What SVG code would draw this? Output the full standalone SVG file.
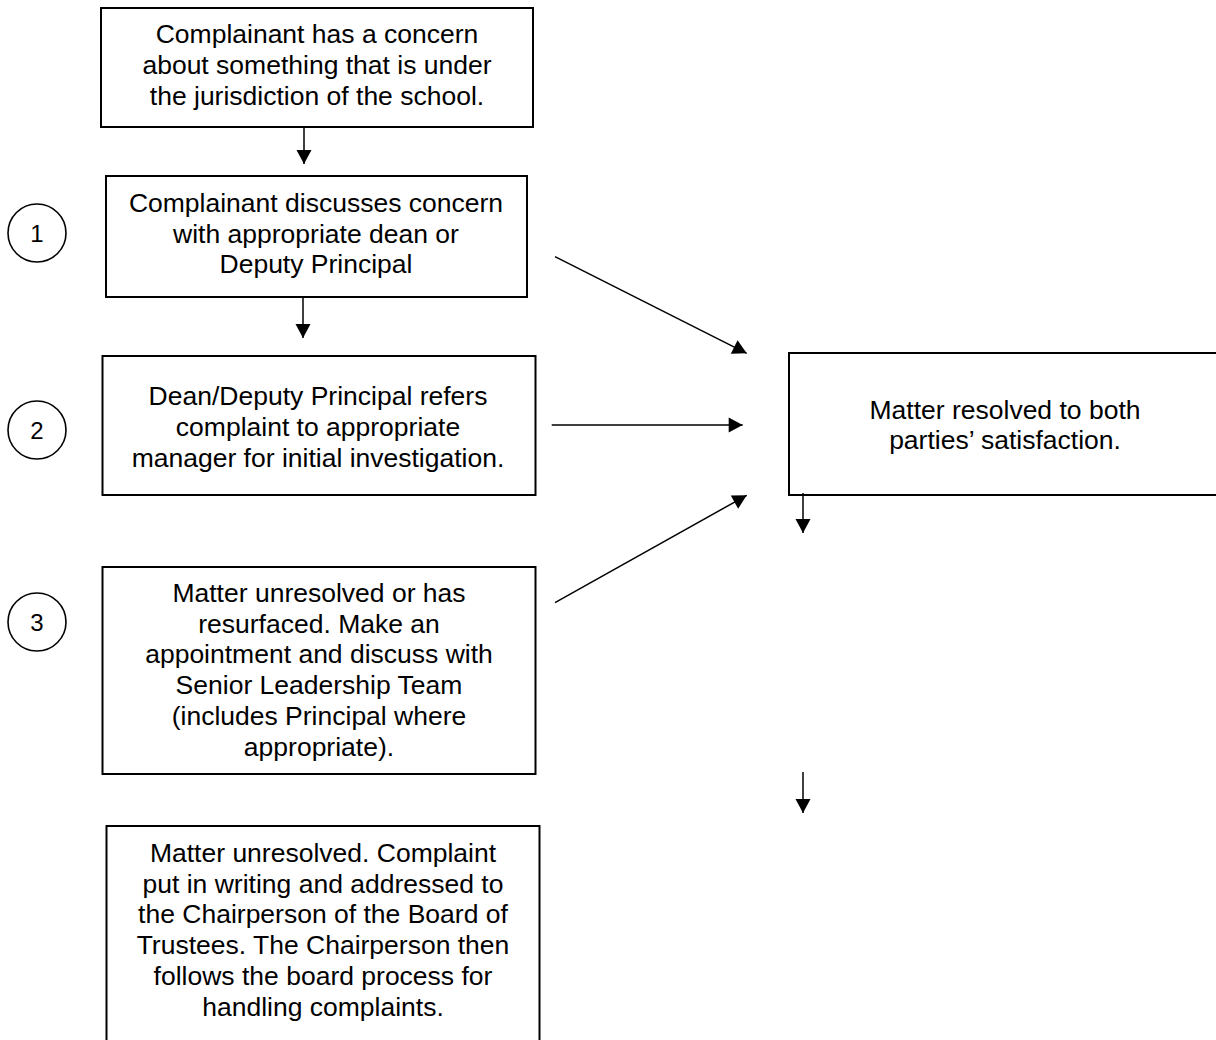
<svg xmlns="http://www.w3.org/2000/svg" width="1216" height="1040" viewBox="0 0 1216 1040">
<style>
.box{fill:#fff;stroke:#000;stroke-width:2}
.num{fill:#fff;stroke:#000;stroke-width:1.6}
.t{font-family:"Liberation Sans",Arial,sans-serif;font-size:26.5px;fill:#000;text-anchor:middle}
.n{font-family:"Liberation Sans",Arial,sans-serif;font-size:24px;fill:#000;text-anchor:middle}
.c{stroke:#000;stroke-width:1.5;fill:none;marker-end:url(#ah)}
</style>
<defs>
<marker id="ah" markerUnits="userSpaceOnUse" markerWidth="15" markerHeight="15" refX="14" refY="7.5" orient="auto" overflow="visible">
<path d="M0,0 L14,7.5 L0,15 Z" fill="#000"/>
</marker>
</defs>
<rect width="1216" height="1040" fill="#fff"/>
<g id="n1">
<rect class="box" x="101" y="8" width="432" height="119"/>
<text class="t" x="317" y="43">Complainant has a concern</text>
<text class="t" x="317" y="74">about something that is under</text>
<text class="t" x="317" y="105">the jurisdiction of the school.</text>
</g>
<g id="n2">
<rect class="box" x="106" y="176" width="421" height="121"/>
<text class="t" x="316" y="212">Complainant discusses concern</text>
<text class="t" x="316" y="242.5">with appropriate dean or</text>
<text class="t" x="316" y="273">Deputy Principal</text>
</g>
<g id="c1">
<circle class="num" cx="37" cy="233" r="29"/>
<text class="n" x="37" y="241.5">1</text>
</g>
<g id="n3">
<rect class="box" x="102.5" y="356" width="433" height="139"/>
<text class="t" x="318" y="405">Dean/Deputy Principal refers</text>
<text class="t" x="318" y="436">complaint to appropriate</text>
<text class="t" x="318" y="466.5">manager for initial investigation.</text>
</g>
<g id="c2">
<circle class="num" cx="37" cy="430" r="29"/>
<text class="n" x="37" y="438.5">2</text>
</g>
<g id="n4">
<rect class="box" x="102.5" y="567" width="433" height="207"/>
<text class="t" x="319" y="601.5">Matter unresolved or has</text>
<text class="t" x="319" y="632.5">resurfaced. Make an</text>
<text class="t" x="319" y="663">appointment and discuss with</text>
<text class="t" x="319" y="694">Senior Leadership Team</text>
<text class="t" x="319" y="725">(includes Principal where</text>
<text class="t" x="319" y="756">appropriate).</text>
</g>
<g id="c3">
<circle class="num" cx="37" cy="622" r="29"/>
<text class="n" x="37" y="630.5">3</text>
</g>
<g id="n5">
<rect class="box" x="106.5" y="826" width="433" height="230"/>
<text class="t" x="323" y="861.5">Matter unresolved. Complaint</text>
<text class="t" x="323" y="892.5">put in writing and addressed to</text>
<text class="t" x="323" y="923">the Chairperson of the Board of</text>
<text class="t" x="323" y="954">Trustees. The Chairperson then</text>
<text class="t" x="323" y="985">follows the board process for</text>
<text class="t" x="323" y="1016">handling complaints.</text>
</g>
<g id="n6">
<rect class="box" x="789" y="353" width="440" height="142"/>
<text class="t" x="1005" y="419">Matter resolved to both</text>
<text class="t" x="1005" y="449">parties’ satisfaction.</text>
</g>
<g id="connectors">
<line class="c" x1="304" y1="127" x2="304" y2="164"/>
<line class="c" x1="303" y1="297" x2="303" y2="338"/>
<line class="c" x1="555" y1="256.7" x2="746.7" y2="353.3"/>
<line class="c" x1="551.7" y1="425" x2="742.7" y2="425"/>
<line class="c" x1="555" y1="602.7" x2="746.7" y2="495.3"/>
<line class="c" x1="803" y1="493" x2="803" y2="533"/>
<line class="c" x1="803" y1="772" x2="803" y2="813"/>
</g>
</svg>
